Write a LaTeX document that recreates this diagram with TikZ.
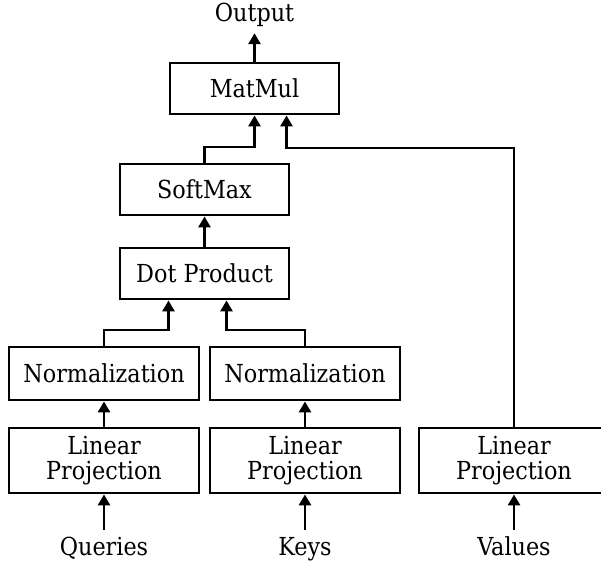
\documentclass[tikz,border=0pt]{standalone}
\usepackage{fontspec}
\setmainfont{DejaVu Serif Condensed}
\usetikzlibrary{arrows.meta}

\tikzset{
  block/.style={draw, line width=2.9pt, minimum width=169pt, minimum height=51pt,
    inner sep=0pt, align=center, font=\fontsize{24.8}{25}\selectfont},
  wideblock/.style={block, minimum width=190pt, minimum height=53pt},
  projblock/.style={wideblock, minimum height=65pt},
  label/.style={anchor=base, inner xsep=0pt, inner ysep=7pt, text height=18pt,
    text depth=4pt, font=\fontsize{24.8}{25}\selectfont},
  arr/.style={line width=2.9pt, -{Triangle[length=11pt,width=12pt]}}
}

\begin{document}
\begin{tikzpicture}[x=1pt,y=-1pt]
\useasboundingbox (0,0) rectangle (601,561);
\clip (0,0) rectangle (601,561);
% top part: the attention itself
\node[block] (matmul) at (254.5,88.5) {MatMul};
\node[block] (softmax) at (204.5,189.5) {SoftMax};
\node[block] (dot) at (204.5,273.5) {Dot Product};
% the three input branches
\node[wideblock] (qnorm) at (104,373.5) {Normalization};
\node[wideblock] (knorm) at (305,373.5) {Normalization};
\node[projblock] (qproj) at (104,460.5) {Linear\\Projection};
\node[projblock] (kproj) at (305,460.5) {Linear\\Projection};
\node[projblock] (vproj) at (514,460.5) {Linear\\Projection};
\node[label] (output) at (254.5,22) {Output};
\node[label] (queries) at (104,555) {Queries};
\node[label] (keys) at (305,555) {Keys};
\node[label] (values) at (514,555) {Values};

\draw[arr] (queries.north) -- (qproj.south);
\draw[arr] (keys.north) -- (kproj.south);
\draw[arr] (values.north) -- (vproj.south);
\draw[arr] (qproj.north) -- (qnorm.south);
\draw[arr] (kproj.north) -- (knorm.south);
\draw[arr] (qnorm.north) -- (qnorm.north |- 0,330) -| ([xshift=-36pt]dot.south);
\draw[arr] (knorm.north) -- (knorm.north |- 0,330) -| ([xshift=22pt]dot.south);
\draw[arr] (dot.north) -- (softmax.south);
\draw[arr] (softmax.north) -- (softmax.north |- 0,147) -| (matmul.south);
\draw[arr] (vproj.north) -- (vproj.north |- 0,148) -| ([xshift=32pt]matmul.south);
\draw[arr] (matmul.north) -- (output.south);
\end{tikzpicture}
\end{document}
